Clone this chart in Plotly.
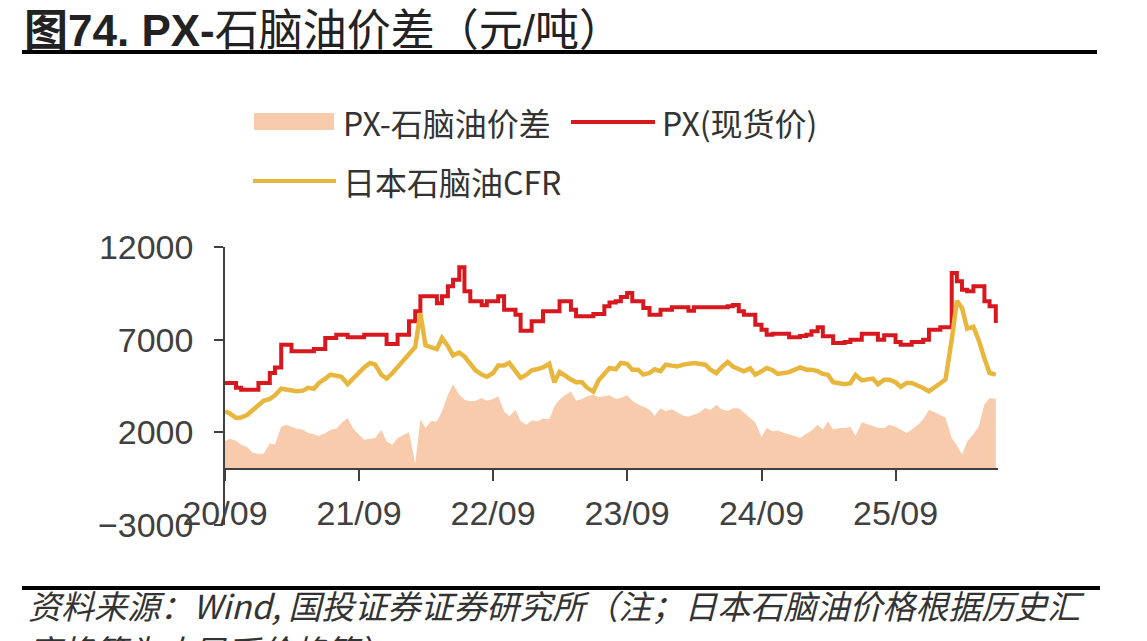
import pandas as pd
import plotly.graph_objects as go

# ---------------- data (semi-monthly) ----------------
dates = pd.date_range("2020-09-01", periods=139, freq="SMS")

px_price = [
    4666, 4666, 4400, 4304, 4304, 4304, 4666, 4666, 5205, 5500,
    6732, 6732, 6372, 6372, 6372, 6372, 6498, 6498, 7093, 7093,
    7271, 7271, 7128, 7128, 7128, 7271, 7271, 7271, 7271, 6768,
    6768, 7271, 7271, 7989, 8528, 9338, 9338, 9338, 8968, 9338,
    9877, 10237, 10902, 9607, 9068, 9068, 8855, 9068, 9068, 9338,
    8620, 8620, 8350, 7487, 7487, 7989, 7989, 8528, 8528, 8528,
    9068, 9068, 8620, 8259, 8259, 8259, 8384, 8384, 8798, 9000,
    9068, 9300, 9518, 9068, 9068, 8709, 8350, 8350, 8620, 8620,
    8745, 8745, 8745, 8565, 8745, 8745, 8745, 8745, 8745, 8745,
    8800, 8870, 8530, 8350, 8350, 7811, 7541, 7271, 7325, 7325,
    7325, 7128, 7128, 7200, 7271, 7450, 7666, 7181, 7181, 6823,
    6823, 6876, 7000, 7000, 7325, 7325, 7325, 7000, 7235, 7235,
    6876, 6732, 6732, 6876, 6876, 7000, 7541, 7541, 7666, 7666,
    10597, 10148, 9698, 9607, 9877, 9877, 9068, 8798, 7900,
]

naphtha_cfr = [
    3134, 3000, 2778, 2800, 2950, 3205, 3495, 3700, 3800, 4000,
    4350, 4300, 4213, 4213, 4250, 4400, 4350, 4666, 4900, 5114,
    5050, 5000, 4600, 4900, 5200, 5500, 5743, 5653, 5100, 4900,
    5200, 5500, 5900, 6150, 6600, 8440, 6700, 6600, 6500, 7093,
    6650, 6150, 6300, 6100, 5700, 5350, 5114, 5000, 5200, 5600,
    5600, 5743, 5300, 4935, 5114, 5350, 5420, 5500, 5700, 4700,
    5250, 5050, 4850, 4700, 4700, 4400, 4200, 4800, 5150, 5473,
    5400, 5743, 5700, 5383, 5383, 5114, 5200, 5400, 5300, 5650,
    5600, 5550, 5653, 5700, 5743, 5700, 5650, 5383, 5200, 5500,
    5800, 5550, 5400, 5294, 5450, 5114, 5294, 5473, 5350, 5150,
    5200, 5250, 5383, 5500, 5383, 5383, 5300, 5150, 5100, 4700,
    4650, 4600, 4650, 5100, 4800, 4850, 4900, 4600, 4843, 4843,
    4700, 4450, 4663, 4663, 4550, 4394, 4213, 4400, 4600, 4850,
    7000, 9100, 8709, 7600, 7700, 7000, 6000, 5200, 5114,
]

spread = [
    1516, 1650, 1550, 1336, 1200, 900, 850, 850, 1400, 1350,
    2300, 2415, 2300, 2200, 2150, 1965, 1900, 1800, 1950, 2145,
    2200, 2500, 2778, 2235, 1875, 1606, 1650, 1700, 2145, 1500,
    1336, 1700, 1875, 2000, 300, 2700, 2235, 2600, 2600, 3134,
    4034, 4600, 4034, 3764, 3674, 3700, 3854, 3700, 3800, 3944,
    3134, 2868, 3224, 2600, 2415, 2650, 2600, 2750, 2700, 3404,
    3764, 4000, 4200, 3700, 3800, 3950, 4034, 3900, 3950, 4000,
    3800, 3850, 4000, 3700, 3500, 3400, 3224, 2900, 3300, 3150,
    3250, 3100, 2900, 2850, 2958, 3050, 3314, 3200, 3494, 3250,
    3150, 3300, 3300, 3050, 2778, 2550, 1750, 2235, 2055, 2100,
    1965, 1900, 1800, 1695, 1900, 2100, 2415, 2150, 2600, 2150,
    2235, 2235, 2300, 1800, 2550, 2450, 2350, 2250, 2235, 2415,
    2300, 2150, 1965, 2150, 2415, 2688, 3224, 3100, 2958, 2800,
    1700, 1300, 800, 1500, 1900, 2300, 3500, 3854, 3800,
]

tick_dates = ["2020-09-01", "2021-09-01", "2022-09-01", "2023-09-01", "2024-09-01", "2025-09-01"]
tick_labels = ["20/09", "21/09", "22/09", "23/09", "24/09", "25/09"]
y_ticks = [-3000, 2000, 7000, 12000]
y_tick_labels = ["−3000", "2000", "7000", "12000"]

names = ["PX-石脑油价差", "PX(现货价)", "日本石脑油CFR"]

# ---------------- style ----------------
W, H = 1147, 641
L, R, T, B = 225, 149, 247, 116
C_AREA = "#F8CBAD"
C_RED = "#D7191F"
C_GOLD = "#E8B63C"
C_AX = "#404040"
C_TXT = "#333333"
CJK = "Noto Sans CJK SC"
LAT = "Liberation Sans, Arial, sans-serif"


def fx(px):
    return (px - L) / (W - L - R)


def fy(py):
    return (H - B - py) / (H - T - B)


fig = go.Figure()
fig.add_trace(go.Scatter(x=dates, y=spread, name=names[0], mode="lines",
                         line=dict(width=0, color=C_AREA), fill="tozeroy",
                         fillcolor=C_AREA, showlegend=False))
fig.add_trace(go.Scatter(x=dates, y=px_price, name=names[1], mode="lines",
                         line=dict(width=4, color=C_RED, shape="hv"), showlegend=False))
fig.add_trace(go.Scatter(x=dates, y=naphtha_cfr, name=names[2], mode="lines",
                         line=dict(width=4.5, color=C_GOLD), showlegend=False))

fig.update_layout(
    width=W, height=H,
    margin=dict(l=L, r=R, t=T, b=B, pad=0),
    paper_bgcolor="white", plot_bgcolor="white",
    font=dict(family=LAT, color=C_AX),
)

fig.update_xaxes(
    type="date", range=["2020-09-01", "2026-06-07"],
    tickvals=tick_dates, ticktext=tick_labels,
    anchor="free", position=3000 / 15000,
    showline=True, linecolor=C_AX, linewidth=1.5,
    ticks="outside", ticklen=11, tickwidth=1.5, tickcolor=C_AX,
    showgrid=False, zeroline=False,
    tickfont=dict(size=34, color=C_AX, family=LAT),
    ticklabelstandoff=3,
)
fig.update_yaxes(
    range=[-3000, 12000], tickvals=y_ticks, ticktext=y_tick_labels,
    showline=True, linecolor=C_AX, linewidth=1.5,
    ticks="outside", ticklen=9, tickwidth=1.5, tickcolor=C_AX,
    showgrid=False, zeroline=False,
    tickfont=dict(size=34, color=C_AX, family=LAT),
    ticklabelstandoff=14,
)

shapes = []
annos = []

# legend (manual, positioned like the reference)
shapes.append(dict(type="rect", xref="paper", yref="paper",
                   x0=fx(254), x1=fx(334), y0=fy(130), y1=fy(113),
                   fillcolor=C_AREA, line=dict(width=0)))
shapes.append(dict(type="line", xref="paper", yref="paper",
                   x0=fx(571), x1=fx(655), y0=fy(122), y1=fy(122),
                   line=dict(color=C_RED, width=4)))
shapes.append(dict(type="line", xref="paper", yref="paper",
                   x0=fx(253), x1=fx(336), y0=fy(181), y1=fy(181),
                   line=dict(color=C_GOLD, width=4)))
leg_font = dict(family=CJK, size=32, color=C_TXT)
for txt, x, y in [(names[0], 341, 122), (names[1], 660, 122), (names[2], 341, 181)]:
    annos.append(dict(text=txt, xref="paper", yref="paper", x=fx(x), y=fy(y),
                      xanchor="left", yanchor="middle", showarrow=False, font=leg_font))

# title + rules
annos.append(dict(text="<b>图74. PX-</b>石脑油价差（元/吨）", xref="paper", yref="paper",
                  x=fx(22), y=fy(30), xanchor="left", yanchor="middle", showarrow=False,
                  font=dict(family="Liberation Sans, " + CJK, size=44, color="#222222")))
shapes.append(dict(type="line", xref="paper", yref="paper",
                   x0=fx(22), x1=fx(1097), y0=fy(52), y1=fy(52),
                   line=dict(color="black", width=4)))
shapes.append(dict(type="line", xref="paper", yref="paper",
                   x0=fx(22), x1=fx(1100), y0=fy(588), y1=fy(588),
                   line=dict(color="black", width=4)))

# footer source note (second line is clipped at the bottom edge, as in the reference)
foot_font = dict(family=CJK, size=33, color=C_TXT, style="italic")
annos.append(dict(text="资料来源：Wind, 国投证券证券研究所（注；日本石脑油价格根据历史汇",
                  xref="paper", yref="paper", x=fx(26), y=fy(605),
                  xanchor="left", yanchor="middle", showarrow=False, font=foot_font))
annos.append(dict(text="率换算为人民币价格等）",
                  xref="paper", yref="paper", x=fx(26), y=fy(624),
                  xanchor="left", yanchor="top", showarrow=False, font=foot_font))

fig.update_layout(shapes=shapes, annotations=annos)

fig.write_html("out.html")
